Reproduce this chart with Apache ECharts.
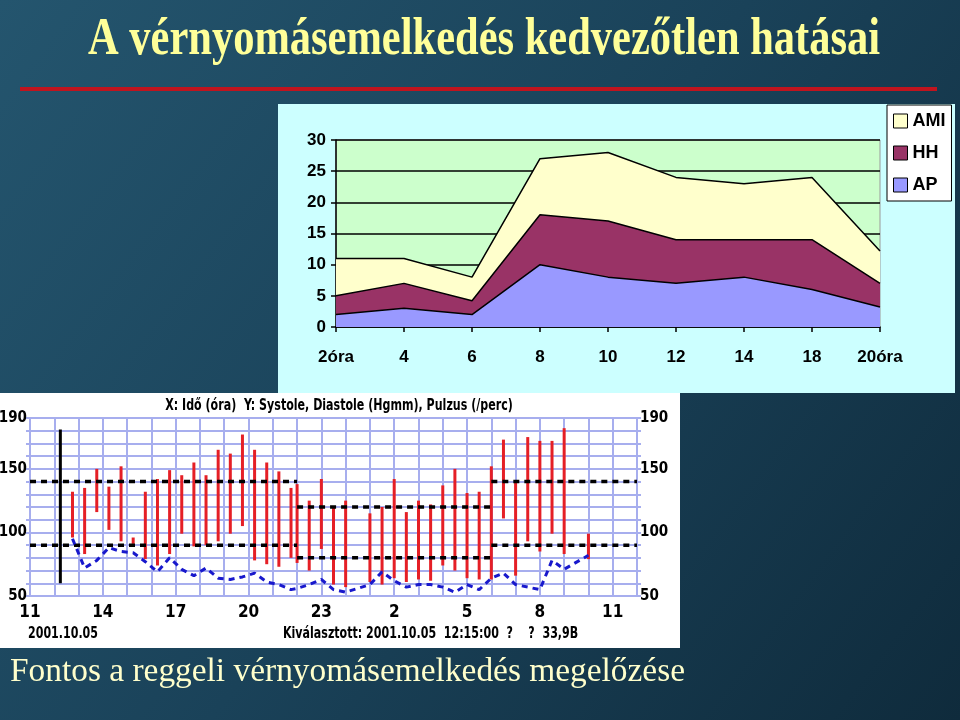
<!DOCTYPE html>
<html>
<head>
  <meta charset="utf-8" />
  <title>A vérnyomásemelkedés kedvezőtlen hatásai</title>
  <style>
    html, body { margin: 0; padding: 0; background: #173a4f; }
    #main { width: 960px; height: 720px; }
  </style>
</head>
<body>
  <div id="main"></div>
  <script src="https://cdn.jsdelivr.net/npm/echarts@6/dist/echarts.min.js"></script>
  <script>
    // felső grafikon: események a nap folyamán (halmozott terület)
    var hours = ['2óra', '4', '6', '8', '10', '12', '14', '18', '20óra'];
    var apVals = [2, 3, 2, 10, 8, 7, 8, 6, 3.2];
    var hhVals = [3, 4, 2.2, 8, 9, 7, 6, 8, 3.8];
    var amiVals = [6, 4, 3.8, 9, 11, 10, 9, 10, 5.2];

    // alsó grafikon: 24 órás vérnyomásmérés
    var times = ['12:45', '13:15', '13:45', '14:15', '14:45', '15:15', '15:45', '16:15', '16:45', '17:15',
                 '17:45', '18:15', '18:45', '19:15', '19:45', '20:15', '20:45', '21:15', '21:45', '22:00',
                 '22:30', '23:00', '23:30', '00:00', '01:00', '01:30', '02:00', '02:30', '03:00', '03:30',
                 '04:00', '04:30', '05:00', '05:30', '06:00', '06:30', '07:00', '07:30', '08:00', '08:30',
                 '09:00', '10:00'];
    var systole = [132, 135, 150, 136, 152, 96, 132, 142, 149, 145,
                   155, 145, 165, 162, 177, 165, 155, 148, 135, 138,
                   125, 142, 120, 125, 115, 120, 142, 116, 125, 122,
                   137, 150, 131, 132, 152, 173, 139, 175, 172, 172,
                   182, 99];
    var diastole = [96, 83, 116, 102, 93, 91, 79, 74, 83, 99,
                    89, 90, 93, 99, 105, 78, 75, 73, 80, 76,
                    70, 87, 59, 57, 61, 59, 64, 61, 63, 62,
                    74, 70, 64, 63, 63, 111, 66, 93, 85, 99,
                    83, 79];
    var pulse = [95, 72, 78, 88, 85, 84, 77, 69, 80, 71,
                 66, 72, 64, 63, 65, 68, 61, 59, 55, 56,
                 59, 63, 55, 53, 59, 69, 62, 57, 59, 59,
                 57, 53, 59, 55, 64, 68, 59, 57, 55, 78,
                 71, 82];
    var limitTimes = ['11:00', '22:00', '06:00', '12:00'];
    var limitSys = [140, 120, 140];
    var limitDia = [90, 80, 90];
    var selectedTime = '12:15';
    var cursorRange = [60, 181];
    var bpLabels = [50, 100, 150, 190];

    var narrow = '"Liberation Sans Narrow", "DejaVu Sans Condensed", "Roboto Condensed", sans-serif';
    var gridBlue = '#a7aeee';

    // időpontok -> órák 11:00-tól, éjfél után folytatva
    function toOffsets(list) {
      var prev = -1, out = [];
      for (var i = 0; i < list.length; i++) {
        var p = list[i].split(':');
        var h = (+p[0] + p[1] / 60 - 11 + 24) % 24;
        while (h < prev) h += 24;
        prev = h;
        out.push(h);
      }
      return out;
    }

    var readX = toOffsets(times);
    var limX = toOffsets(limitTimes);
    var selX = toOffsets([selectedTime])[0];

    var bpData = readX.map(function (x, i) { return [x, diastole[i], systole[i]]; });
    var pulseData = readX.map(function (x, i) { return [x, pulse[i]]; });

    function areaSeries(name, vals, color) {
      return {
        name: name, type: 'line', stack: 'ossz', xAxisIndex: 0, yAxisIndex: 0,
        data: vals, symbol: 'none', z: 3,
        itemStyle: { color: color },
        lineStyle: { color: '#000', width: 1.5 },
        areaStyle: { color: color, opacity: 1 }
      };
    }

    function limitSeries(vals) {
      return vals.map(function (v, i) {
        return {
          type: 'line', xAxisIndex: 1, yAxisIndex: 1, symbol: 'none', z: 4,
          data: [[limX[i], v], [limX[i + 1], v]],
          lineStyle: { color: '#000', width: 3.5, type: [6, 5] }
        };
      });
    }

    function smallText(x, y, text, align) {
      return {
        type: 'text', x: x, y: y, scaleX: 0.82, scaleY: 1.05,
        style: { text: text, font: 'bold 15px ' + narrow, fill: '#000', align: align, verticalAlign: 'middle' }
      };
    }

    var chart = echarts.init(document.getElementById('main'));
    var option = {
      animation: false,
      backgroundColor: {
        type: 'linear', x: 0, y: 0, x2: 1, y2: 1,
        colorStops: [
          { offset: 0, color: '#24556e' },
          { offset: 0.5, color: '#1a4259' },
          { offset: 1, color: '#0f2b3c' }
        ]
      },
      graphic: [
        { type: 'rect', z: -10, shape: { x: 278, y: 104, width: 677, height: 289 }, style: { fill: '#ccffff' } },
        { type: 'rect', z: -10, shape: { x: 0, y: 393, width: 680, height: 255 }, style: { fill: '#ffffff' } },
        { type: 'line', shape: { x1: 20, y1: 89, x2: 937, y2: 89 }, style: { stroke: '#c0141e', lineWidth: 4 } },
        {
          type: 'text', x: 484, y: 40, scaleY: 1.25,
          style: { text: 'A vérnyomásemelkedés kedvezőtlen hatásai', font: 'bold 42.5px "Liberation Serif", serif',
                   fill: '#ffff99', align: 'center', verticalAlign: 'middle' }
        },
        {
          type: 'text', x: 10, y: 672,
          style: { text: 'Fontos a reggeli vérnyomásemelkedés megelőzése', font: '33.4px "Liberation Serif", serif',
                   fill: '#ffffcc', align: 'left', verticalAlign: 'middle' }
        },
        smallText(339, 406, 'X: Idő (óra)  Y: Systole, Diastole (Hgmm), Pulzus (/perc)', 'center'),
        smallText(28, 634, '2001.10.05', 'left'),
        smallText(283, 634, 'Kiválasztott: 2001.10.05  12:15:00  ?    ?  33,9B', 'left')
      ],
      legend: {
        data: ['AMI', 'HH', 'AP'],
        orient: 'vertical', left: 887, top: 105,
        padding: [7, 6, 7, 6], itemGap: 14, itemWidth: 14, itemHeight: 14,
        icon: 'rect', selectedMode: false,
        backgroundColor: '#fff', borderColor: '#000', borderWidth: 1,
        itemStyle: { borderColor: '#000', borderWidth: 1 },
        textStyle: { color: '#000', fontSize: 18, fontWeight: 'bold', fontFamily: 'Liberation Sans, Arial, sans-serif' }
      },
      grid: [
        { left: 336, top: 140, width: 544, height: 187, show: true, backgroundColor: '#ccffcc',
          borderColor: '#9a9a9a', borderWidth: 1, outerBoundsMode: 'none' },
        { left: 30, top: 418, width: 607, height: 178, show: false, outerBoundsMode: 'none' }
      ],
      xAxis: [
        {
          gridIndex: 0, type: 'category', data: hours, boundaryGap: false,
          axisLine: { lineStyle: { color: '#000', width: 1.5 } },
          axisTick: { show: true, length: 5, lineStyle: { color: '#000', width: 1.5 } },
          axisLabel: { color: '#000', fontSize: 17, fontWeight: 'bold', fontFamily: 'Liberation Sans, Arial, sans-serif', margin: 22 },
          splitLine: { show: false }
        },
        {
          gridIndex: 1, type: 'value', min: 0, max: 25, interval: 1,
          axisLine: { lineStyle: { color: gridBlue, width: 2 } },
          axisTick: { show: false },
          axisLabel: {
            color: '#000', fontSize: 17, fontWeight: 'bold', fontFamily: narrow, margin: 8,
            formatter: function (v) { return v % 3 === 0 ? String((11 + v) % 24) : ''; }
          },
          splitLine: { show: true, lineStyle: { color: gridBlue, width: 2 } }
        }
      ],
      yAxis: [
        {
          gridIndex: 0, type: 'value', min: 0, max: 30, interval: 5,
          axisLine: { show: true, lineStyle: { color: '#000', width: 1.5 } },
          axisTick: { show: true, length: 5, lineStyle: { color: '#000', width: 1.5 } },
          axisLabel: { color: '#000', fontSize: 17, fontWeight: 'bold', fontFamily: 'Liberation Sans, Arial, sans-serif', margin: 10 },
          splitLine: { lineStyle: { color: '#000', width: 1.5 } }
        },
        {
          gridIndex: 1, type: 'value', min: 50, max: 190, interval: 10, position: 'left',
          axisLine: { show: true, lineStyle: { color: gridBlue, width: 2 } },
          axisTick: { show: true, length: 4, lineStyle: { color: gridBlue, width: 2 } },
          axisLabel: {
            color: '#000', fontSize: 15, fontWeight: 'bold', fontFamily: narrow, margin: 3,
            formatter: function (v) { return bpLabels.indexOf(v) >= 0 ? String(v) : ''; }
          },
          splitLine: { lineStyle: { color: gridBlue, width: 2 } }
        },
        {
          gridIndex: 1, type: 'value', min: 50, max: 190, interval: 10, position: 'right',
          axisLine: { show: true, lineStyle: { color: gridBlue, width: 2 } },
          axisTick: { show: true, length: 4, lineStyle: { color: gridBlue, width: 2 } },
          axisLabel: {
            color: '#000', fontSize: 15, fontWeight: 'bold', fontFamily: narrow, margin: 3,
            formatter: function (v) { return bpLabels.indexOf(v) >= 0 ? String(v) : ''; }
          },
          splitLine: { show: false }
        }
      ],
      series: [
        areaSeries('AP', apVals, '#9999ff'),
        areaSeries('HH', hhVals, '#993366'),
        areaSeries('AMI', amiVals, '#ffffcc'),
        {
          type: 'custom', xAxisIndex: 1, yAxisIndex: 1, z: 3,
          data: bpData,
          encode: { x: 0, y: [1, 2] },
          renderItem: function (params, api) {
            var lo = api.coord([api.value(0), api.value(1)]);
            var hi = api.coord([api.value(0), api.value(2)]);
            return {
              type: 'line',
              shape: { x1: lo[0], y1: lo[1], x2: hi[0], y2: hi[1] },
              style: { stroke: '#e51f26', lineWidth: 3 }
            };
          }
        }
      ].concat(limitSeries(limitSys), limitSeries(limitDia), [
        {
          type: 'line', xAxisIndex: 1, yAxisIndex: 1, symbol: 'none', z: 5,
          data: pulseData,
          lineStyle: { color: '#1818cc', width: 3, type: [6, 5] }
        },
        {
          type: 'line', xAxisIndex: 1, yAxisIndex: 1, symbol: 'none', z: 5,
          data: [[selX, cursorRange[0]], [selX, cursorRange[1]]],
          lineStyle: { color: '#000', width: 3 }
        }
      ])
    };
    chart.setOption(option);
  </script>
</body>
</html>
